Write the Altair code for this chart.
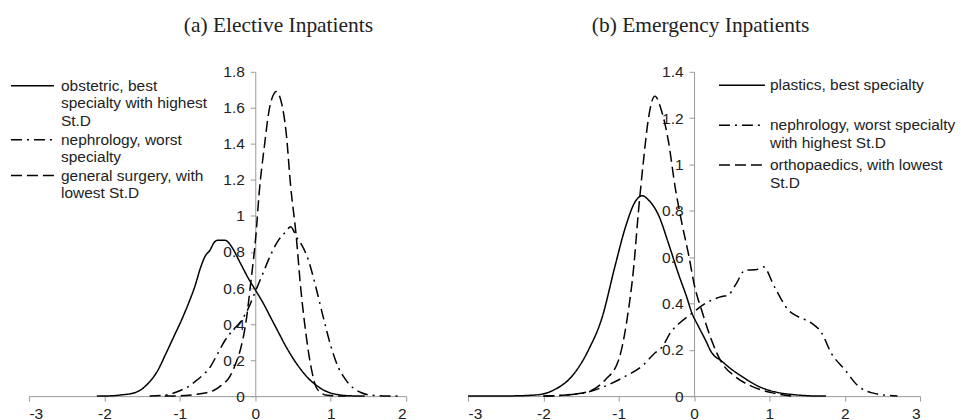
import altair as alt
import pandas as pd

# ---------------- data ----------------
# (a) Elective inpatients
el_obst_x = [-2.1, -1.9, -1.75, -1.63, -1.5, -1.4, -1.31, -1.18, -1.08, -0.98, -0.88, -0.8, -0.72, -0.66, -0.6, -0.55, -0.5, -0.4, -0.35, -0.3, -0.2, -0.1, 0.0, 0.1, 0.2, 0.3, 0.4, 0.5, 0.6, 0.7, 0.8, 0.9, 1.0, 1.1, 1.24, 1.45]
el_obst_y = [0.0, 0.002, 0.008, 0.015, 0.04, 0.08, 0.13, 0.24, 0.33, 0.42, 0.52, 0.61, 0.72, 0.78, 0.81, 0.85, 0.865, 0.865, 0.85, 0.82, 0.74, 0.66, 0.59, 0.52, 0.44, 0.36, 0.28, 0.21, 0.15, 0.10, 0.063, 0.035, 0.017, 0.008, 0.002, 0.0]

el_neph_x = [-1.4, -1.2, -1.0, -0.9, -0.8, -0.7, -0.6, -0.5, -0.4, -0.3, -0.2, -0.1, 0.0, 0.1, 0.2, 0.3, 0.4, 0.47, 0.55, 0.6, 0.7, 0.8, 0.9, 1.0, 1.1, 1.2, 1.3, 1.4, 1.5, 1.7, 1.95]
el_neph_y = [0.0, 0.005, 0.03, 0.05, 0.08, 0.115, 0.16, 0.235, 0.31, 0.365, 0.41, 0.48, 0.58, 0.68, 0.78, 0.86, 0.91, 0.94, 0.88, 0.85, 0.76, 0.61, 0.44, 0.28, 0.16, 0.09, 0.045, 0.02, 0.007, 0.001, 0.0]

el_surg_x = [-1.2, -0.92, -0.75, -0.56, -0.45, -0.34, -0.26, -0.19, -0.12, -0.06, 0.01, 0.05, 0.12, 0.185, 0.25, 0.28, 0.34, 0.41, 0.47, 0.54, 0.6, 0.67, 0.74, 0.82, 0.95, 1.2]
el_surg_y = [0.0, 0.003, 0.012, 0.03, 0.06, 0.107, 0.18, 0.27, 0.42, 0.63, 0.9, 1.12, 1.385, 1.59, 1.68, 1.69, 1.64, 1.46, 1.16, 0.9, 0.61, 0.35, 0.16, 0.04, 0.005, 0.0]

# (b) Emergency inpatients
em_plas_x = [-3.0, -2.4, -2.1, -1.97, -1.84, -1.62, -1.4, -1.22, -1.05, -0.91, -0.78, -0.69, -0.6, -0.47, -0.34, -0.21, -0.1, -0.03, 0.06, 0.15, 0.23, 0.37, 0.5, 0.63, 0.85, 1.12, 1.3, 1.56, 1.75]
em_plas_y = [0.0, 0.001, 0.005, 0.012, 0.03, 0.086, 0.2, 0.34, 0.56, 0.73, 0.84, 0.865, 0.845, 0.78, 0.66, 0.53, 0.43, 0.36, 0.3, 0.243, 0.19, 0.15, 0.115, 0.086, 0.043, 0.015, 0.007, 0.001, 0.0]

em_neph_x = [-2.0, -1.7, -1.44, -1.18, -0.91, -0.69, -0.52, -0.43, -0.3, -0.21, -0.03, 0.15, 0.37, 0.45, 0.55, 0.68, 0.81, 0.92, 1.07, 1.25, 1.38, 1.56, 1.69, 1.82, 2.0, 2.18, 2.35, 2.7]
em_neph_y = [0.0, 0.005, 0.015, 0.043, 0.086, 0.13, 0.186, 0.21, 0.28, 0.31, 0.357, 0.4, 0.43, 0.435, 0.48, 0.544, 0.545, 0.558, 0.47, 0.372, 0.343, 0.315, 0.275, 0.186, 0.115, 0.043, 0.015, 0.0]

em_orth_x = [-2.0, -1.7, -1.4, -1.18, -1.0, -0.89, -0.8, -0.74, -0.67, -0.605, -0.52, -0.43, -0.34, -0.25, -0.16, -0.075, 0.01, 0.1, 0.23, 0.37, 0.54, 0.76, 1.03, 1.3]
em_orth_y = [0.0, 0.005, 0.02, 0.07, 0.157, 0.33, 0.56, 0.79, 1.02, 1.2, 1.295, 1.23, 1.1, 0.9, 0.744, 0.615, 0.47, 0.372, 0.243, 0.143, 0.086, 0.043, 0.015, 0.0]

el_names = ["obstetric, best\nspecialty with highest\nSt.D",
            "nephrology, worst\nspecialty",
            "general surgery, with\nlowest St.D"]
em_names = ["plastics, best specialty",
            "nephrology, worst specialty\nwith highest St.D",
            "orthopaedics, with lowest\nSt.D"]

el_x_ticks = [-3, -2, -1, 0, 1, 2]
el_y_ticks = [0, 0.2, 0.4, 0.6, 0.8, 1.0, 1.2, 1.4, 1.6, 1.8]
em_x_ticks = [-3, -2, -1, 0, 1, 2, 3]
em_y_ticks = [0, 0.2, 0.4, 0.6, 0.8, 1.0, 1.2, 1.4]

titles = ["(a) Elective Inpatients", "(b) Emergency Inpatients"]

# ---------------- styling ----------------
DASHES = [[1, 0], [11, 5, 2, 5], [11, 5]]
AXIS_GRAY = "#9a9a9a"
TEXT = "#222222"
SANS = "Liberation Sans"
SERIF = "Liberation Serif"
LINE_SYMBOL = "M-3,0H3"   # a horizontal stroke, three times the nominal symbol width


def frame(names, series):
    rows = []
    for name, (xs, ys) in zip(names, series):
        for i, (x, y) in enumerate(zip(xs, ys)):
            rows.append({"series": name, "x": x, "y": y, "i": i})
    return pd.DataFrame(rows)


def label_expr(min_lines):
    # split on line breaks, padding short labels to a common number of lines
    return ("split(datum.label + (length(split(datum.label, '\\n')) < %d ? '\\n ' : ''), '\\n')"
            % min_lines)


def panel(df, names, xdom, ydom, xt, yt, w, h, title, title_dx, leg_x, leg_y, sym_len, label_gap,
          row_pad, min_lines):
    yaxis_off = -(0 - xdom[0]) / (xdom[1] - xdom[0]) * w
    unit = sym_len / 3.0
    size_px = unit + 1.5
    label_off = (size_px / 2 + sym_len / 2 + label_gap) - size_px
    return alt.Chart(df).mark_line(color="black", strokeWidth=1.5, interpolate="monotone").encode(
        x=alt.X("x:Q", scale=alt.Scale(domain=xdom, nice=False, zero=False),
                axis=alt.Axis(values=xt, title=None, grid=False, tickSize=5, labelPadding=5,
                              domainColor=AXIS_GRAY, tickColor=AXIS_GRAY, labelColor=TEXT,
                              labelFont=SANS, labelFontSize=15.5, labelExpr="'' + datum.value")),
        y=alt.Y("y:Q", scale=alt.Scale(domain=ydom, nice=False, zero=False),
                axis=alt.Axis(values=yt, title=None, grid=False, tickSize=5, labelPadding=6,
                              offset=yaxis_off, domainColor=AXIS_GRAY, tickColor=AXIS_GRAY,
                              labelColor=TEXT, labelFont=SANS, labelFontSize=15.5,
                              labelExpr="'' + datum.value")),
        strokeDash=alt.StrokeDash("series:N", scale=alt.Scale(domain=names, range=DASHES),
                                  legend=alt.Legend(orient="none", legendX=leg_x, legendY=leg_y,
                                                    title=None, symbolType=LINE_SYMBOL,
                                                    symbolSize=unit * unit,
                                                    symbolStrokeWidth=1.5, symbolStrokeColor="black",
                                                    labelFont=SANS, labelFontSize=15.5, labelColor=TEXT,
                                                    labelLimit=0, labelOffset=label_off,
                                                    rowPadding=row_pad,
                                                    labelExpr=label_expr(min_lines))),
        order="i:Q",
    ).properties(
        width=w, height=h,
        title=alt.TitleParams(title, font=SERIF, fontSize=21.5, fontWeight="normal", color=TEXT,
                              anchor="middle", dx=title_dx, frame="group", baseline="alphabetic",
                              offset=11),
    )


left = panel(frame(el_names, [(el_obst_x, el_obst_y), (el_neph_x, el_neph_y), (el_surg_x, el_surg_y)]),
             el_names, [-3, 2], [0, 1.8], el_x_ticks, el_y_ticks, 378, 325, titles[0], 61,
             -4.5, 6, 43, 7, 2, 1)
right = panel(frame(em_names, [(em_plas_x, em_plas_y), (em_neph_x, em_neph_y), (em_orth_x, em_orth_y)]),
              em_names, [-3, 3], [0, 1.4], em_x_ticks, em_y_ticks, 453, 325, titles[1], 6.5,
              266, 5, 46, 5, 5, 2)

chart = alt.hconcat(left, right, spacing=62, bounds="flush").resolve_scale(
    strokeDash="independent", x="independent", y="independent"
).resolve_legend(strokeDash="independent").properties(
    padding={"left": 16, "top": 6.5, "right": 0, "bottom": 0}
).configure_view(stroke=None)

chart.save("out.html", embed_options={"renderer": "svg", "actions": False})
